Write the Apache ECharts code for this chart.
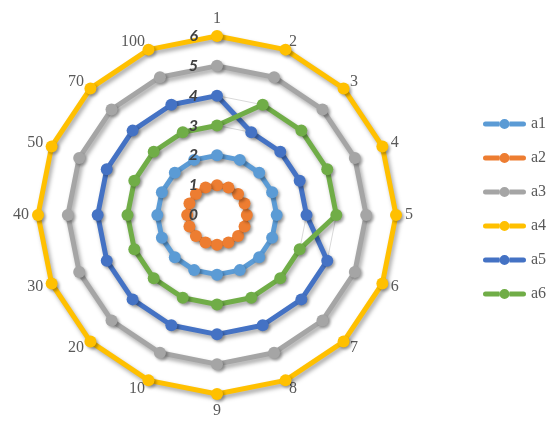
<!DOCTYPE html>
<html>
<head>
<meta charset="utf-8">
<script src="https://cdn.jsdelivr.net/npm/echarts@6/dist/echarts.min.js"></script>
<style>html,body{margin:0;padding:0;background:#fff}#c{width:550px;height:433px}</style>
</head>
<body>
<div id="c"></div>
<script>
// Indicators in clockwise order starting from the top
const categories = ['1','2','3','4','5','6','7','8','9','10','20','30','40','50','70','100'];
const radialTicks = [0,1,2,3,4,5,6];
const seriesNames = ['a1','a2','a3','a4','a5','a6'];
const a1 = [2,2,2,2,2,2,2,2,2,2,2,2,2,2,2,2];
const a2 = [1,1,1,1,1,1,1,1,1,1,1,1,1,1,1,1];
const a3 = [5,5,5,5,5,5,5,5,5,5,5,5,5,5,5,5];
const a4 = [6,6,6,6,6,6,6,6,6,6,6,6,6,6,6,6];
const a5 = [4,3,3,3,3,4,4,4,4,4,4,4,4,4,4,4];
const a6 = [3,4,4,4,4,3,3,3,3,3,3,3,3,3,3,3];
const colors = ['#5B9BD5','#ED7D31','#A5A5A5','#FFC000','#4472C4','#70AD47'];

// ECharts radar runs counter-clockwise; reorder so the picture runs clockwise
const order = [0].concat(categories.map((_, i) => i).slice(1).reverse());
const reorder = arr => order.map(i => arr[i]);
const allData = [a1,a2,a3,a4,a5,a6];

const baseIndicator = reorder(categories).map(n => ({
  name: n, min: radialTicks[0], max: radialTicks[radialTicks.length-1]
}));
// overlay copy that carries only the radial tick labels (drawn above the series)
const labelIndicator = baseIndicator.map((o, k) => {
  const c = Object.assign({}, o);
  if (k === 0) {
    c.axisLabel = {
      show: true, color: '#404040', fontSize: 16, fontWeight: 'bold', fontStyle: 'italic',
      fontFamily: 'Lato', margin: 19
    };
  }
  return c;
});

// legend marker: line with a circle in the middle
const legendIcon = 'path://M2.5,2.5 L16.5,2.5 L16.5,7.5 L2.5,7.5 A2.5,2.5 0 0 1 2.5,2.5 Z ' +
  'M26.5,2.5 L40.5,2.5 A2.5,2.5 0 0 1 40.5,7.5 L26.5,7.5 Z ' +
  'M16.5,5 A5,5 0 1 1 26.5,5 A5,5 0 1 1 16.5,5 Z ' +
  'M0,5 L0,5 M43,5 L43,5 M21.5,0 L21.5,0 M21.5,10 L21.5,10';

const radarCommon = {
  center: [217, 215], radius: 179,
  startAngle: 90, shape: 'polygon', splitNumber: 6,
  axisLine: { show: false },
  axisTick: { show: false },
  axisLabel: { show: false },
  splitArea: { show: false }
};

const chart = echarts.init(document.getElementById('c'));
chart.setOption({
  animation: false,
  color: colors,
  legend: {
    orient: 'vertical', left: 478, top: 111,
    itemWidth: 43, itemHeight: 10, itemGap: 18,
    textStyle: { fontFamily: 'Liberation Serif', fontSize: 16, color: '#595959' },
    data: seriesNames.map(n => ({ name: n, icon: legendIcon }))
  },
  radar: [
    Object.assign({}, radarCommon, {
      axisName: { color: '#595959', fontFamily: 'Liberation Serif', fontSize: 16 },
      nameGap: 9,
      splitLine: { lineStyle: { color: '#D9D9D9', width: 1 } },
      indicator: baseIndicator
    }),
    Object.assign({}, radarCommon, {
      z: 10,
      axisName: { show: false },
      splitLine: { show: false },
      indicator: labelIndicator
    })
  ],
  series: [{
    type: 'radar',
    radarIndex: 0,
    symbol: 'circle', symbolSize: 12,
    lineStyle: { width: 5, shadowColor: 'rgba(0,0,0,0.35)', shadowBlur: 4, shadowOffsetX: 2, shadowOffsetY: 3 },
    itemStyle: { shadowColor: 'rgba(0,0,0,0.3)', shadowBlur: 3, shadowOffsetX: 2, shadowOffsetY: 2 },
    data: seriesNames.map((n, i) => ({ name: n, value: reorder(allData[i]) }))
  }]
});
</script>
</body>
</html>
